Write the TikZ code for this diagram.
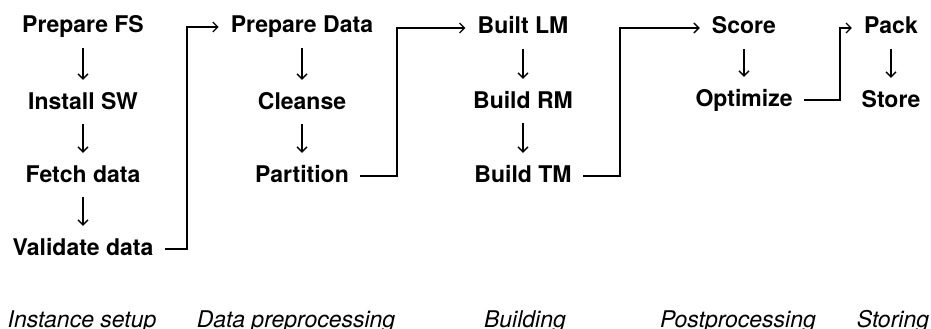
\documentclass[tikz,border=0pt]{standalone}
\usepackage{fontspec}
\setmainfont{TeX Gyre Heros}
\usetikzlibrary{arrows.meta}
\begin{document}
\begin{tikzpicture}[x=1pt,y=-1pt,
  stepnode/.style={font=\fontsize{23}{27}\selectfont\bfseries, inner sep=0pt,
    text height=17pt, text depth=5pt, anchor=base},
  phase/.style={font=\fontsize{23}{27}\selectfont\itshape, inner sep=0pt, anchor=base},
  tip/.style={-{Straight Barb[length=5pt,width=10pt,line width=1.3pt]}},
  arr/.style={line width=1.4pt, tip, shorten <=10pt, shorten >=12pt},
  conn/.style={line width=1.4pt, tip, shorten <=11pt, shorten >=12pt}]
\useasboundingbox (0,0) rectangle (931,329);
% column 1
\node[stepnode] (fs) at (83,33) {Prepare FS};
\node[stepnode] (sw) at (83,109) {Install SW};
\node[stepnode] (fd) at (83,182) {Fetch data};
\node[stepnode] (vd) at (83,255) {Validate data};
% column 2
\node[stepnode] (pd) at (302,33) {Prepare Data};
\node[stepnode] (cl) at (302,109) {Cleanse};
\node[stepnode] (pa) at (302,182) {Partition};
% column 3
\node[stepnode] (lm) at (523,34) {Built LM};
\node[stepnode] (rm) at (523,108) {Build RM};
\node[stepnode] (tm) at (523,182) {Build TM};
% column 4
\node[stepnode] (sc) at (744,34) {Score};
\node[stepnode] (op) at (744,106) {Optimize};
% column 5
\node[stepnode] (pk) at (891,34) {Pack};
\node[stepnode] (st) at (891,107) {Store};
% phase labels
\node[phase] (l1) at (82,327) {Instance setup};
\node[phase] (l2) at (296,327) {Data preprocessing};
\node[phase] (l3) at (525,327) {Building};
\node[phase] (l4) at (738,327) {Postprocessing};
\node[phase] (l5) at (893,327) {Storing};
% vertical arrows
\draw[arr] (fs.south) -- (fs.south |- sw.north);
\draw[arr] (sw.south) -- (sw.south |- fd.north);
\draw[arr] (fd.south) -- (fd.south |- vd.north);
\draw[arr] (pd.south) -- (pd.south |- cl.north);
\draw[arr] (cl.south) -- (cl.south |- pa.north);
\draw[arr] (lm.south) -- (lm.south |- rm.north);
\draw[arr] (rm.south) -- (rm.south |- tm.north);
\draw[arr] (sc.south) -- (sc.south |- op.north);
\draw[arr] (pk.south) -- (pk.south |- st.north);
% connectors between phases
\coordinate (k1) at (187,0);
\coordinate (k2) at (397,0);
\coordinate (k3) at (620,0);
\coordinate (k4) at (840,0);
\draw[conn] (vd.east) -- (vd.east -| k1) |- (pd.west);
\draw[conn] (pa.east) -- (pa.east -| k2) |- (lm.west);
\draw[conn] (tm.east) -- (tm.east -| k3) |- (sc.west);
\draw[conn] (op.east) -- (op.east -| k4) |- (pk.west);
\end{tikzpicture}
\end{document}
